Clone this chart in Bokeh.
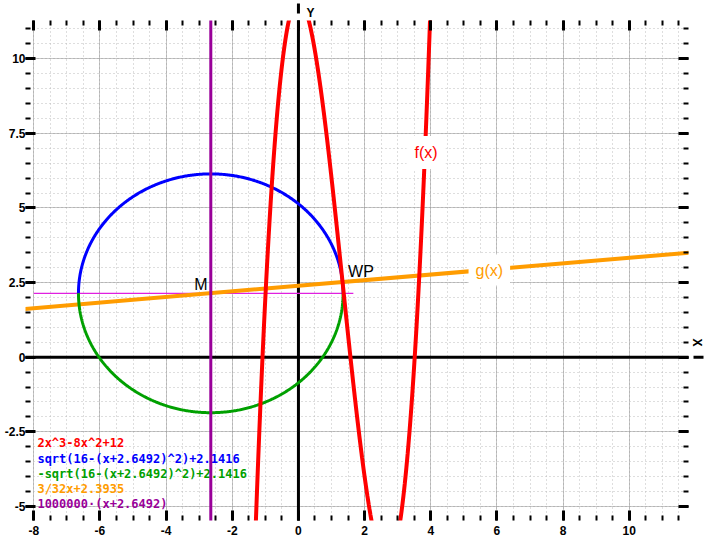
import numpy as np
from bokeh.plotting import figure
from bokeh.models import (Range1d, LinearAxis, SingleIntervalTicker, Arrow, Title,
                          NormalHead, Label, ColumnDataSource, CustomLabelingPolicy)
from bokeh.core.properties import value
from bokeh.embed import file_html
from bokeh.resources import INLINE

# ---------------- data ----------------
f_coeffs = [2, -8, 0, 12]            # 2x^3 - 8x^2 + 12
circle_center = [-2.6492, 2.1416]    # M
circle_radius = 4.0
g_slope = 3 / 32
g_intercept = 2.3935
vertical_x = -2.6492                 # 1000000*(x+2.6492)
helper_x = [-8.0, 1.66]              # thin horizontal helper line
helper_y = [2.1416, 2.1416]

x_ticks = [-8, -6, -4, -2, 0, 2, 4, 6, 8, 10]
x_tick_labels = ["-8", "-6", "-4", "-2", "0", "2", "4", "6", "8", "10"]
y_ticks = [-5, -2.5, 0, 2.5, 5, 7.5, 10]
y_tick_labels = ["-5", "-2.5", "0", "2.5", "5", "7.5", "10"]

legend_texts = ["2x^3-8x^2+12",
                "sqrt(16-(x+2.6492)^2)+2.1416",
                "-sqrt(16-(x+2.6492)^2)+2.1416",
                "3/32x+2.3935",
                "1000000\u00b7(x+2.6492)"]
legend_colors = ["#ff0000", "#0000ff", "#00a000", "#ff9c00", "#990099"]

RED, BLUE, GREEN, ORANGE, PURPLE = legend_colors

# ---------------- layout ----------------
X0, X1 = -8.25, 11.79
Y0, Y1 = -5.47, 11.28
SX, SY = 33.08, 29.85   # pixels per unit (for placing things outside the frame)

p = figure(width=708, height=544, x_range=Range1d(X0, X1), y_range=Range1d(Y0, Y1),
           output_backend="svg", toolbar_location=None,
           min_border_left=25, min_border_right=20, min_border_top=20, min_border_bottom=24,
           background_fill_color="white", border_fill_color="white",
           outline_line_color=None)

xt = SingleIntervalTicker(interval=2, num_minor_ticks=4)
yt = SingleIntervalTicker(interval=2.5, num_minor_ticks=5)

def style_axis(ax, show_labels):
    ax.axis_line_color = None
    ax.major_tick_in = 10
    ax.major_tick_out = 0
    ax.minor_tick_in = 5
    ax.minor_tick_out = 0
    ax.major_tick_line_width = 3
    ax.minor_tick_line_width = 2
    ax.major_tick_line_color = "black"
    ax.minor_tick_line_color = "black"
    if show_labels:
        ax.major_label_text_font = "Liberation Sans"
        ax.major_label_text_font_style = "bold"
        ax.major_label_text_font_size = "12px"
        ax.major_label_text_color = "black"
    else:
        ax.major_label_text_font_size = "0px"
        ax.major_label_standoff = 0
        ax.major_label_policy = CustomLabelingPolicy(
            code="for (const i of Array.from(indices)) { indices.unset(i) }\nreturn indices")

p.xaxis.ticker = xt
p.yaxis.ticker = yt
p.xaxis.major_label_overrides = {t: s for t, s in zip(x_ticks, x_tick_labels)}
p.yaxis.major_label_overrides = {t: s for t, s in zip(y_ticks, y_tick_labels)}
style_axis(p.xaxis[0], True)
style_axis(p.yaxis[0], True)
p.xaxis.major_label_standoff = 5
p.yaxis.major_label_standoff = 0

top = LinearAxis(ticker=xt)
right = LinearAxis(ticker=yt)
style_axis(top, False)
style_axis(right, False)
p.add_layout(top, "above")
p.add_layout(right, "right")

for g, t in ((p.xgrid, xt), (p.ygrid, yt)):
    g.ticker = t
    g.grid_line_color = "#8c8c8c"
    g.grid_line_dash = "1 1"
    g.grid_line_width = 1
    g.minor_grid_line_color = "#bcbcbc"
    g.minor_grid_line_dash = "1 3"
    g.minor_grid_line_width = 1

# ---------------- coordinate axes with arrows ----------------
p.add_layout(Arrow(end=NormalHead(size=10, fill_color="black", line_color="black"),
                   x_start=X0 - 2 / SX, y_start=0, x_end=X1 + 15 / SX, y_end=0,
                   line_color="black", line_width=3, level="underlay"))
p.add_layout(Arrow(end=NormalHead(size=10, fill_color="black", line_color="black"),
                   x_start=0, y_start=Y0 - 3 / SY, x_end=0, y_end=Y1 + 17 / SY,
                   line_color="black", line_width=3, level="underlay"))

# axis names, outside the data frame -> placed as side titles
p.add_layout(Title(text="Y", align="left", offset=281, standoff=0, vertical_align="middle",
                   text_font="Liberation Sans", text_font_style="bold",
                   text_font_size="12px", text_color="black"), "above")
p.add_layout(Title(text="X", align="left", offset=318, standoff=0, vertical_align="middle",
                   text_font="Liberation Sans", text_font_style="bold",
                   text_font_size="12px", text_color="black"), "right")

# ---------------- formula texts (bottom left) ----------------
n = len(legend_texts)
leg_src = ColumnDataSource(dict(
    x=[-7.89] * n,
    y=[-2.89 - i * 0.51 for i in range(n)],
    text=legend_texts, color=legend_colors))
p.text(x="x", y="y", text="text", text_color="color", source=leg_src,
       text_font=value("DejaVu Sans Mono"), text_font_style="bold",
       text_font_size="12px", text_baseline="middle", text_align="left")

# ---------------- curves ----------------
p.line(helper_x, helper_y, line_color="#e020e0", line_width=1.2)

gx = np.array([X0 - 1, X1 + 1])
p.line(gx, g_slope * gx + g_intercept, line_color=ORANGE, line_width=4)

t = np.linspace(0, np.pi, 400)
cx = circle_center[0] + circle_radius * np.cos(t)
p.line(cx, circle_center[1] + circle_radius * np.sin(t), line_color=BLUE, line_width=3)
p.line(cx, circle_center[1] - circle_radius * np.sin(t), line_color=GREEN, line_width=3)

fx = np.linspace(-1.7, 4.4, 1500)
p.line(fx, np.polyval(f_coeffs, fx), line_color=RED, line_width=4)

p.line([vertical_x, vertical_x], [Y0 - 1, Y1 + 1], line_color=PURPLE, line_width=3)

# ---------------- labels ----------------
p.add_layout(Label(x=3.86, y=6.86, text="f(x)", text_align="center", text_baseline="middle",
                   text_font="Liberation Sans", text_font_size="16px", text_color=RED,
                   background_fill_color="white", padding=8))
p.add_layout(Label(x=5.77, y=2.92, text="g(x)", text_align="center", text_baseline="middle",
                   text_font="Liberation Sans", text_font_size="16px", text_color=ORANGE,
                   background_fill_color="white", padding=7))
p.add_layout(Label(x=-2.95, y=2.42, text="M", text_align="center", text_baseline="middle",
                   text_font="Liberation Sans", text_font_size="16px", text_color="black"))
p.add_layout(Label(x=1.89, y=2.88, text="WP", text_align="center", text_baseline="middle",
                   text_font="Liberation Sans", text_font_size="16px", text_color="black"))

open("out.html", "w").write(file_html(p, INLINE))
